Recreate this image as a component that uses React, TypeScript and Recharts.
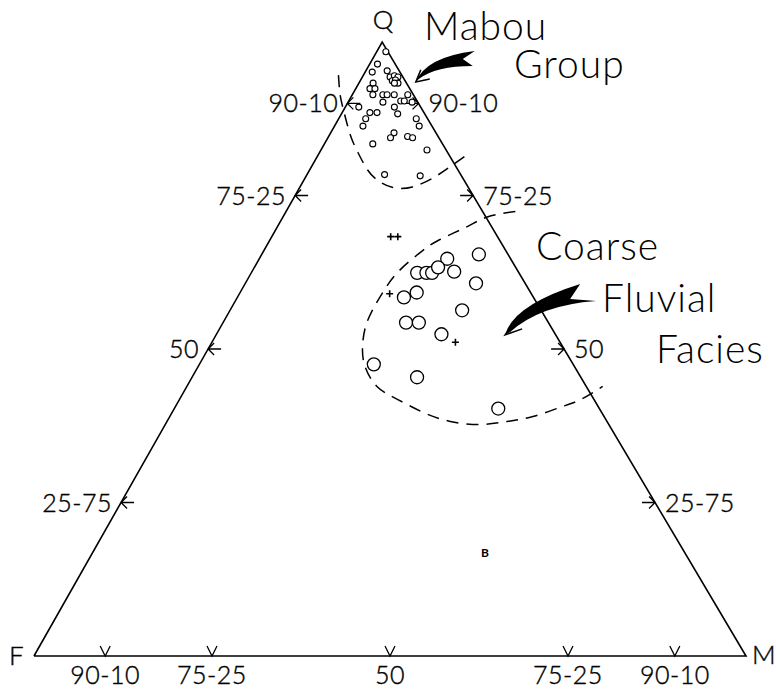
import { ScatterChart, Scatter, XAxis, YAxis } from 'recharts'

const W = 776
const H = 689
// the apex of the drawn triangle sits slightly left of centre
const SKEW = 0.489

// all points are [Q, M] in percent, F = 100 - Q - M
const frame: [number, number][] = [[0, 0], [0, 100], [100, 0], [0, 0]]

const sideQ = [90, 75, 50, 25]
const sideLabels = ['90-10', '75-25', '50', '25-75']
const baseM = [10, 25, 50, 75, 90]
const baseLabels = ['90-10', '75-25', '50', '75-25', '90-10']

// Mabou Group samples (small circles)
const mabou: [number, number][] = [
  [98.4, 1.3], [96.4, 1.1], [95.1, 1.0], [95.3, 3.0], [94.3, 3.9], [94.5, 4.4], [94.3, 5.0],
  [93.7, 4.5], [93.8, 4.9], [93.3, 5.5], [93.3, 5.0], [93.3, 2.0], [92.4, 2.0], [92.4, 2.7],
  [91.4, 2.9], [91.4, 4.3], [91.4, 4.9], [91.4, 5.9], [90.2, 4.9], [90.4, 7.3], [90.4, 7.8],
  [91.4, 7.8], [90.2, 9.0], [89.4, 1.9], [89.4, 6.9], [88.5, 3.9], [88.5, 4.9], [87.5, 3.8],
  [86.3, 4.0], [88.3, 7.9], [87.5, 10.9], [86.3, 11.9], [85.2, 8.9], [84.4, 8.8], [84.6, 11.1],
  [84.4, 11.9], [83.4, 6.8], [82.4, 14.9], [78.4, 10.9], [78.2, 16.0],
]

// coarse fluvial facies samples (large circles)
const fluvial: [number, number][] = [
  [64.7, 26.4], [65.4, 30.5], [62.4, 23.3], [62.4, 24.6], [62.4, 25.4], [63.3, 25.8],
  [62.6, 28.4], [60.7, 32.4], [59.2, 24.8], [58.4, 23.4], [56.3, 32.6], [54.3, 25.7],
  [54.3, 27.5], [52.4, 31.6], [47.5, 24.5], [45.4, 31.6], [40.3, 45.5],
]

const crosses: [number, number][] = [[68.3, 16.7], [68.3, 17.7], [59.0, 21.1], [51.1, 34.2]]

// dashed field outlines
const mabouField: [number, number][] = [
  [94.6, -3.5], [91.4, -1.7], [88.9, 0.0], [84.9, 2.9], [82.0, 5.4], [79.2, 8.1], [77.4, 10.5],
  [76.3, 13.1], [76.4, 15.8], [77.9, 18.0], [79.7, 19.5], [82.1, 21.2],
]
const fluvialField: [number, number][] = [
  [72.4, 32.2], [71.5, 28.7], [69.9, 26.6], [67.8, 23.8], [65.7, 22.1], [62.4, 20.5], [58.5, 20.0],
  [54.3, 20.2], [50.4, 21.5], [47.2, 23.4], [43.9, 26.7], [41.8, 30.6], [39.7, 35.2], [38.2, 39.8],
  [37.7, 44.3], [38.2, 47.8], [39.0, 51.0], [40.5, 54.1], [41.8, 56.4], [43.9, 58.4],
]

// arrow tips
const mabouArrow: [number, number][] = [[93.5, 7.9]]
const fluvialArrow: [number, number][] = [[52.3, 40.6]]

const toXY = ([q, m]: [number, number]) => ({ x: m + SKEW * q, y: q })

const font = 'Lato, "Open Sans", sans-serif'

const Empty = () => <g />

const SmallCircle = (p: any) => <circle cx={p.cx} cy={p.cy} r={3} fill="#fff" stroke="#000" strokeWidth={1.1} />
const BigCircle = (p: any) => <circle cx={p.cx} cy={p.cy} r={6.5} fill="#fff" stroke="#000" strokeWidth={1.3} />
const Cross = (p: any) => (
  <path d={`M${p.cx - 3.5},${p.cy}h7M${p.cx},${p.cy - 3.5}v7`} stroke="#000" strokeWidth={1.6} />
)

const Tick = (p: any) => {
  const { cx, cy, payload } = p
  const txt = { fontFamily: font, fontSize: 25, fontWeight: 300, letterSpacing: 0.5, fill: '#000', stroke: '#000', strokeWidth: 0.4 }
  if (payload.side === 'left') {
    return (
      <g>
        <path d={`M${cx},${cy}h13M${cx + 6},${cy - 6}L${cx},${cy}L${cx + 6},${cy + 6}`} stroke="#000" strokeWidth={1.3} fill="none" />
        <text x={cx - 9} y={cy + 9} textAnchor="end" {...txt}>{payload.label}</text>
      </g>
    )
  }
  if (payload.side === 'right') {
    return (
      <g>
        <path d={`M${cx},${cy}h-13M${cx - 6},${cy - 6}L${cx},${cy}L${cx - 6},${cy + 6}`} stroke="#000" strokeWidth={1.3} fill="none" />
        <text x={cx + 10} y={cy + 9} textAnchor="start" {...txt}>{payload.label}</text>
      </g>
    )
  }
  return (
    <g>
      <path d={`M${cx - 5},${cy - 10}L${cx},${cy}L${cx + 5},${cy - 10}`} stroke="#000" strokeWidth={1.3} fill="none" />
      <text x={cx} y={cy + 28} textAnchor="middle" {...txt}>{payload.label}</text>
    </g>
  )
}

const MabouArrow = (p: any) => (
  <g transform={`translate(${p.cx},${p.cy})`}>
    <path d="M0,0 Q10,-25 59,-31 L47,-23 L57,-16 Q20,-16 3,-3 Z" fill="#000" />
    <path d="M5,-12 L0,0 L14,-3" stroke="#000" strokeWidth={1.5} fill="none" />
  </g>
)

const FluvialArrow = (p: any) => (
  <g transform={`translate(${p.cx},${p.cy})`}>
    <path d="M0,0 Q8,-30 75,-51 L65,-36 L91,-34 Q35,-30 5,-3 Z" fill="#000" />
    <path d="M8,-12 L0,0 L17,-6" stroke="#000" strokeWidth={1.5} fill="none" />
  </g>
)

export default function App() {
  const ticks = [
    ...sideQ.map((q, i) => ({ ...toXY([q, 0]), label: sideLabels[i], side: 'left' })),
    ...sideQ.map((q, i) => ({ ...toXY([q, 100 - q]), label: sideLabels[i], side: 'right' })),
    ...baseM.map((m, i) => ({ ...toXY([0, m]), label: baseLabels[i], side: 'bottom' })),
  ]
  const title = { fontFamily: font, fontSize: 39, fontWeight: 300, letterSpacing: 1, fill: '#000' }
  const corner = { fontFamily: font, fontSize: 26, fontWeight: 300, fill: '#000', stroke: '#000', strokeWidth: 0.4 }

  return (
    <div style={{ position: 'absolute', left: 0, top: 0, width: W, height: H, background: '#fff' }}>
      <ScatterChart width={W} height={H} margin={{ top: 42, right: 30, bottom: 33, left: 34 }}>
        <XAxis type="number" dataKey="x" domain={[0, 100]} hide />
        <YAxis type="number" dataKey="y" domain={[0, 100]} hide />
        <Scatter data={frame.map(toXY)} line={{ stroke: '#000', strokeWidth: 1.6 }} shape={Empty} isAnimationActive={false} />
        <Scatter data={mabouField.map(toXY)} line={{ stroke: '#000', strokeWidth: 1.5, strokeDasharray: '12 8' }} lineJointType="natural" shape={Empty} isAnimationActive={false} />
        <Scatter data={fluvialField.map(toXY)} line={{ stroke: '#000', strokeWidth: 1.5, strokeDasharray: '12 8' }} lineJointType="natural" shape={Empty} isAnimationActive={false} />
        <Scatter data={ticks} shape={Tick} isAnimationActive={false} />
        <Scatter data={mabou.map(toXY)} shape={SmallCircle} isAnimationActive={false} />
        <Scatter data={fluvial.map(toXY)} shape={BigCircle} isAnimationActive={false} />
        <Scatter data={crosses.map(toXY)} shape={Cross} isAnimationActive={false} />
        <Scatter data={mabouArrow.map(toXY)} shape={MabouArrow} isAnimationActive={false} />
        <Scatter data={fluvialArrow.map(toXY)} shape={FluvialArrow} isAnimationActive={false} />
      </ScatterChart>
      <svg width={W} height={H} style={{ position: 'absolute', left: 0, top: 0, pointerEvents: 'none' }}>
        <text x={383} y={29} textAnchor="middle" {...corner}>Q</text>
        <text x={9} y={665} {...corner}>F</text>
        <text x={752} y={664} {...corner}>M</text>
        <text x={424} y={40} {...title}>Mabou</text>
        <text x={514} y={78} {...title}>Group</text>
        <text x={536} y={260} {...title}>Coarse</text>
        <text x={602} y={312} {...title}>Fluvial</text>
        <text x={656} y={363} {...title}>Facies</text>
        <text x={485} y={557} textAnchor="middle" style={{ fontFamily: font, fontSize: 12, fontWeight: 700 }}>B</text>
      </svg>
    </div>
  )
}
